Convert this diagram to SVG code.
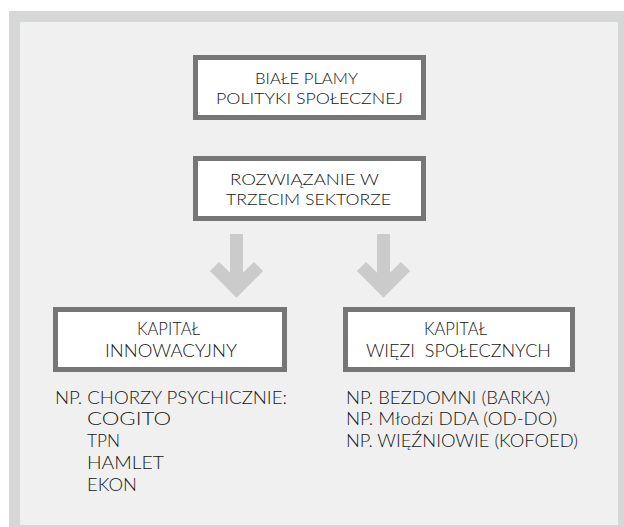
<svg xmlns="http://www.w3.org/2000/svg" xmlns:xlink="http://www.w3.org/1999/xlink" width="624" height="527" viewBox="0 0 624 527">
<style>
.box{fill:#ffffff;stroke:#767676;stroke-width:5}
.t{font-family:Lato,"Open Sans","DejaVu Sans",sans-serif;font-weight:300;fill:#161616;white-space:pre}
.big{font-size:16.5px}
.sm{font-size:17px}
.arrow{fill:#cbcbcb}
</style>
<defs>
<polygon id="arr" points="-6.5,234 6.5,234 6.5,272.8 17.4,261.9 26.6,271.1 0,297.7 -26.6,271.1 -17.4,261.9 -6.5,272.8"/>
</defs>
<rect x="9" y="11" width="615" height="516" fill="#d5d8d7"/>
<rect x="20" y="22" width="598" height="503" fill="#f0f0f0"/>
<g id="connectors" class="arrow">
<use xlink:href="#arr" transform="translate(236.5,0)"/>
<use xlink:href="#arr" transform="translate(383.5,0)"/>
</g>
<g id="n1">
<rect class="box" x="195.5" y="57.5" width="228" height="60"/>
<text class="t big" x="255" y="83.5" textLength="103" lengthAdjust="spacingAndGlyphs">BIAŁE PLAMY</text>
<text class="t big" x="216" y="103.5" textLength="187" lengthAdjust="spacingAndGlyphs">POLITYKI SPOŁECZNEJ</text>
</g>
<g id="n2">
<rect class="box" x="195.5" y="158.5" width="228" height="60"/>
<text class="t big" x="230" y="184.5" textLength="149" lengthAdjust="spacingAndGlyphs">ROZWIĄZANIE W</text>
<text class="t big" x="226" y="204.5" textLength="165" lengthAdjust="spacingAndGlyphs">TRZECIM SEKTORZE</text>
</g>
<g id="n3">
<rect class="box" x="55.5" y="309.5" width="229" height="60"/>
<text class="t sm" x="137" y="335" textLength="63" lengthAdjust="spacingAndGlyphs">KAPITAŁ</text>
<text class="t sm" x="105" y="357" textLength="132" lengthAdjust="spacingAndGlyphs">INNOWACYJNY</text>
</g>
<g id="n4">
<rect class="box" x="345.5" y="309.5" width="227" height="60"/>
<text class="t sm" x="424" y="335" textLength="63" lengthAdjust="spacingAndGlyphs">KAPITAŁ</text>
<text class="t sm" x="366" y="357" textLength="185" lengthAdjust="spacingAndGlyphs">WIĘZI  SPOŁECZNYCH</text>
</g>
<g id="list-left">
<text class="t sm" x="55" y="403.5" textLength="232" lengthAdjust="spacingAndGlyphs">NP. CHORZY PSYCHICZNIE:</text>
<text class="t sm" x="87" y="425" textLength="84" lengthAdjust="spacingAndGlyphs">COGITO</text>
<text class="t sm" x="87" y="447" textLength="33" lengthAdjust="spacingAndGlyphs">TPN</text>
<text class="t sm" x="87" y="469" textLength="77" lengthAdjust="spacingAndGlyphs">HAMLET</text>
<text class="t sm" x="87" y="491" textLength="50" lengthAdjust="spacingAndGlyphs">EKON</text>
</g>
<g id="list-right">
<text class="t sm" x="346" y="403.5" textLength="204" lengthAdjust="spacingAndGlyphs">NP. BEZDOMNI (BARKA)</text>
<text class="t sm" x="346" y="425" textLength="211" lengthAdjust="spacingAndGlyphs">NP. Młodzi DDA (OD-DO)</text>
<text class="t sm" x="346" y="447" textLength="232" lengthAdjust="spacingAndGlyphs">NP. WIĘŹNIOWIE (KOFOED)</text>
</g>
</svg>
